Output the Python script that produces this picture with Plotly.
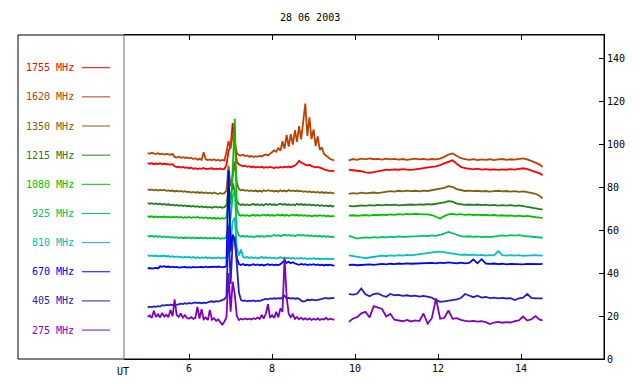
import plotly.graph_objects as go

# ---------------- data ----------------
T_A = [5.00, 5.05, 5.10, 5.15, 5.20, 5.25, 5.30, 5.35, 5.40, 5.45,
       5.50, 5.55, 5.60, 5.65, 5.70, 5.75, 5.80, 5.85, 5.90, 5.95,
       6.00, 6.05, 6.10, 6.15, 6.20, 6.25, 6.30, 6.35, 6.40, 6.45,
       6.50, 6.55, 6.60, 6.65, 6.70, 6.75, 6.80, 6.85, 6.90, 6.95,
       7.00, 7.05, 7.10, 7.15, 7.20, 7.25, 7.30, 7.35, 7.40, 7.45,
       7.50, 7.55, 7.60, 7.65, 7.70, 7.75, 7.80, 7.85, 7.90, 7.95,
       8.00, 8.05, 8.10, 8.15, 8.20, 8.25, 8.30, 8.35, 8.40, 8.45,
       8.50, 8.55, 8.60, 8.65, 8.70, 8.75, 8.80, 8.85, 8.90, 8.95,
       9.00, 9.05, 9.10, 9.15, 9.20, 9.25, 9.30, 9.35, 9.40, 9.45, 9.50]

T_B = [9.85, 9.95, 10.05, 10.15, 10.25, 10.35, 10.45, 10.55, 10.65, 10.75,
       10.85, 10.95, 11.05, 11.15, 11.25, 11.35, 11.45, 11.55, 11.65, 11.75,
       11.85, 11.95, 12.05, 12.15, 12.25, 12.35, 12.45, 12.55, 12.65, 12.75,
       12.85, 12.95, 13.05, 13.15, 13.25, 13.35, 13.45, 13.55, 13.65, 13.75,
       13.85, 13.95, 14.05, 14.15, 14.25, 14.35, 14.45, 14.52]

LABELS = ["1755 MHz", "1620 MHz", "1350 MHz", "1215 MHz", "1080 MHz",
          "925 MHz", "810 MHz", "670 MHz", "405 MHz", "275 MHz"]

F1755_A = [91.3, 91.0, 91.2, 90.8, 91.1, 90.9, 91.2, 90.7, 91.0, 90.8,
           90.9, 90.6, 90.8, 89.8, 89.4, 89.6, 89.2, 89.5, 89.1, 89.3,
           88.9, 89.2, 88.7, 88.9, 88.5, 88.8, 88.6, 89.0, 88.5, 88.7,
           88.6, 88.9, 88.4, 88.7, 88.5, 88.8, 88.4, 88.6, 90.5, 97.0,
           99.0, 110.0, 100.5, 92.0, 90.6, 90.2, 89.8, 90.1, 89.6, 89.9,
           89.4, 89.7, 89.2, 89.5, 89.3, 89.6, 89.1, 89.4, 89.2, 89.5,
           89.3, 89.0, 89.4, 89.1, 89.5, 89.2, 89.6, 89.3, 89.7, 89.4,
           89.8, 90.2, 91.0, 92.4, 91.6, 90.9, 90.6, 90.2, 90.5, 89.9,
           89.7, 89.3, 89.5, 89.0, 88.8, 88.4, 88.2, 87.9, 87.6, 87.8, 87.6]
F1755_B = [88.2, 88.0, 87.8, 87.5, 87.0, 86.8, 87.1, 87.6, 88.1, 88.3,
           88.1, 88.4, 88.2, 88.5, 88.3, 88.1, 88.4, 88.6, 88.9, 89.2,
           89.5, 89.8, 90.3, 91.2, 92.0, 92.6, 91.0, 89.5, 89.0, 88.6,
           88.4, 88.7, 88.3, 88.5, 88.2, 88.4, 88.1, 88.4, 88.2, 88.5,
           88.3, 88.6, 88.9, 88.5, 87.9, 87.2, 86.5, 85.6]

F1620_A = [96.0, 95.6, 96.1, 95.8, 95.5, 95.9, 95.4, 95.7, 95.3, 95.6,
           95.5, 95.2, 95.6, 94.2, 93.9, 94.3, 93.8, 94.1, 93.7, 93.9,
           93.5, 93.8, 93.2, 93.6, 92.9, 93.3, 92.8, 96.4, 93.1, 92.7,
           93.0, 92.6, 93.1, 92.5, 92.9, 92.4, 92.8, 92.5, 96.5, 101.5,
           98.0, 104.5, 101.0, 96.0, 95.0, 94.8, 95.2, 94.6, 94.9, 94.3,
           94.6, 94.1, 94.5, 94.2, 94.7, 94.4, 95.0, 95.3, 94.9, 95.6,
           96.3, 97.2, 96.6, 98.5, 97.0, 101.5, 98.0, 104.4, 99.0, 104.8,
           99.9, 106.6, 101.2, 108.5, 102.4, 111.3, 119.0, 104.0, 112.6, 102.5,
           107.0, 99.2, 103.8, 97.4, 98.6, 95.6, 94.6, 94.0, 93.2, 92.8, 92.5]
F1620_B = [92.6, 93.2, 92.8, 93.4, 93.0, 93.5, 93.1, 93.3, 92.9, 93.4,
           93.0, 93.3, 92.9, 93.2, 92.8, 93.1, 93.4, 93.0, 93.3, 92.9,
           93.2, 93.0, 93.4, 94.2, 95.3, 95.8, 94.8, 93.6, 93.2, 92.8,
           93.1, 92.7, 93.0, 92.8, 93.1, 92.7, 93.0, 93.2, 92.8, 93.1,
           92.9, 93.2, 93.5, 93.0, 92.4, 91.5, 90.6, 89.5]

F1350_A = [79.1, 78.7, 79.0, 78.6, 78.9, 78.5, 78.8, 78.6, 78.9, 78.4,
           78.6, 78.3, 78.5, 78.1, 78.4, 78.0, 78.3, 77.9, 78.2, 77.8,
           78.0, 77.6, 77.9, 77.5, 77.8, 77.4, 77.7, 77.3, 77.6, 77.2,
           77.5, 77.1, 77.6, 77.3, 76.9, 77.4, 77.0, 77.3, 78.5, 90.0,
           80.5, 85.0, 92.0, 82.0, 79.2, 78.6, 78.9, 78.4, 78.7, 78.3,
           78.6, 78.2, 78.5, 78.1, 78.4, 78.0, 78.6, 78.3, 78.7, 78.4,
           78.5, 78.1, 78.4, 78.0, 78.6, 78.2, 78.5, 78.1, 78.7, 78.3,
           78.6, 78.2, 78.5, 78.1, 78.3, 77.9, 78.2, 77.8, 78.1, 77.7,
           78.0, 77.6, 77.9, 77.5, 77.8, 77.4, 77.7, 77.3, 77.6, 77.2, 77.4]
F1350_B = [77.0, 77.3, 77.1, 77.5, 77.2, 77.4, 77.6, 77.3, 77.7, 77.9,
           78.2, 78.0, 78.4, 78.1, 78.5, 78.2, 78.4, 78.1, 78.5, 78.3,
           78.6, 78.9, 79.3, 79.8, 80.5, 80.2, 79.2, 78.6, 78.3, 78.5,
           78.2, 78.4, 78.1, 78.3, 78.0, 78.2, 78.4, 78.1, 78.3, 78.0,
           78.2, 77.9, 78.1, 77.8, 77.5, 77.0, 76.0, 74.8]

F1215_A = [72.7, 72.3, 72.6, 72.2, 72.5, 72.1, 72.4, 72.0, 72.3, 71.9,
           72.1, 71.7, 71.9, 71.5, 71.8, 71.4, 71.7, 71.3, 71.6, 71.2,
           71.4, 71.0, 71.3, 70.9, 71.2, 70.8, 71.1, 70.7, 71.0, 70.6,
           70.9, 70.5, 70.8, 71.0, 70.6, 70.9, 70.5, 70.8, 71.5, 80.0,
           74.0, 82.0, 78.0, 73.5, 72.2, 71.8, 72.1, 71.7, 72.0, 71.6,
           71.9, 72.2, 71.8, 72.1, 71.7, 72.0, 71.6, 72.3, 71.9, 72.2,
           71.8, 72.1, 71.7, 72.0, 72.4, 71.9, 72.2, 71.8, 72.1, 71.7,
           72.0, 71.6, 72.3, 71.9, 72.2, 71.8, 72.1, 71.7, 72.0, 71.6,
           71.9, 71.5, 71.8, 71.4, 71.7, 71.3, 71.6, 71.2, 71.5, 71.1, 71.3]
F1215_B = [71.4, 71.1, 71.3, 71.6, 71.4, 71.7, 71.5, 71.8, 71.6, 71.9,
           71.7, 71.9, 71.6, 71.8, 71.7, 72.0, 71.8, 72.1, 71.9, 72.2,
           72.0, 72.3, 72.5, 73.0, 73.6, 73.3, 72.4, 72.0, 71.8, 72.0,
           71.8, 72.0, 71.7, 71.9, 71.6, 71.8, 71.5, 71.7, 71.5, 71.7,
           71.4, 71.6, 71.3, 71.0, 70.6, 70.3, 70.0, 69.6]

F1080_A = [66.6, 66.2, 66.5, 66.1, 66.4, 66.0, 66.3, 66.1, 66.4, 66.0,
           66.3, 65.9, 66.2, 66.0, 66.3, 65.9, 66.2, 65.8, 66.1, 65.9,
           66.2, 65.8, 66.1, 65.9, 66.2, 65.8, 66.0, 65.7, 66.0, 65.6,
           65.9, 65.5, 65.8, 65.4, 65.7, 65.3, 65.6, 65.4, 66.0, 75.0,
           72.0, 88.0, 112.0, 70.0, 67.2, 66.8, 67.1, 66.7, 67.0, 66.6,
           66.9, 67.2, 66.8, 67.1, 66.7, 67.0, 67.3, 66.9, 67.2, 66.8,
           67.1, 66.7, 67.0, 67.3, 66.9, 67.2, 66.8, 67.1, 66.7, 67.0,
           67.3, 66.9, 67.2, 66.8, 67.1, 66.7, 67.0, 66.6, 66.9, 66.5,
           66.8, 66.9, 66.6, 67.0, 66.7, 66.9, 66.5, 66.8, 66.4, 66.7, 66.5]
F1080_B = [66.8, 67.0, 66.7, 66.9, 67.1, 66.8, 67.2, 67.0, 67.3, 67.1,
           67.4, 67.2, 67.5, 67.3, 67.6, 67.4, 67.7, 67.5, 67.6, 67.4,
           67.1, 66.2, 65.5, 66.6, 67.4, 67.6, 67.3, 67.5, 67.2, 67.4,
           67.1, 67.3, 67.0, 67.2, 66.9, 67.1, 66.8, 67.0, 66.7, 66.9,
           66.6, 66.8, 66.5, 66.7, 66.3, 66.1, 65.9, 65.8]

F925_A = [57.5, 57.1, 57.4, 57.0, 57.3, 56.9, 57.2, 56.8, 57.1, 56.7,
          57.0, 56.6, 56.9, 56.5, 56.8, 56.4, 56.7, 56.3, 56.6, 56.4,
          56.7, 56.3, 56.6, 56.2, 56.5, 56.3, 56.6, 56.2, 56.5, 56.1,
          56.4, 56.2, 56.5, 56.1, 56.4, 56.0, 56.3, 56.1, 57.0, 62.0,
          66.0, 76.0, 78.0, 60.0, 57.5, 57.1, 57.4, 57.0, 57.3, 56.9,
          57.2, 56.8, 57.1, 57.4, 57.0, 57.3, 56.9, 57.2, 57.5, 57.1,
          57.4, 57.8, 57.4, 57.7, 57.3, 57.6, 57.9, 57.5, 57.8, 57.4,
          57.7, 57.3, 57.6, 57.9, 57.5, 57.8, 57.4, 57.7, 57.3, 57.6,
          57.2, 57.5, 57.1, 57.4, 57.0, 57.3, 56.9, 57.2, 56.8, 57.0, 56.7]
F925_B = [57.4, 56.8, 56.1, 56.4, 56.7, 56.5, 56.8, 56.6, 56.9, 56.7,
          57.0, 56.8, 57.1, 56.9, 57.0, 56.8, 57.1, 57.3, 57.5, 57.3,
          57.6, 57.4, 57.8, 58.4, 59.2, 58.6, 57.8, 57.3, 57.0, 57.2,
          56.9, 57.1, 56.8, 57.0, 56.8, 57.1, 57.3, 57.6, 57.4, 57.7,
          57.5, 57.7, 57.4, 57.2, 57.0, 56.8, 56.7, 56.5]

F810_A = [48.4, 48.0, 48.3, 47.9, 48.2, 47.8, 48.1, 47.9, 48.2, 47.8,
          48.0, 47.6, 47.9, 47.5, 47.8, 47.4, 47.7, 47.3, 47.6, 47.4,
          47.6, 47.2, 47.5, 47.1, 47.4, 47.0, 47.3, 47.1, 47.4, 47.0,
          47.3, 46.9, 47.2, 47.0, 47.3, 46.9, 47.2, 47.0, 47.5, 52.0,
          55.0, 64.0, 66.0, 52.0, 48.2, 51.0, 47.6, 47.2, 47.5, 47.1,
          47.4, 47.0, 47.3, 46.9, 47.2, 47.5, 47.1, 47.4, 47.0, 47.3,
          46.9, 47.2, 46.8, 47.1, 47.4, 47.0, 47.3, 46.9, 47.2, 46.8,
          47.1, 46.7, 47.0, 46.8, 47.1, 46.7, 47.0, 46.6, 46.9, 46.7,
          47.0, 46.6, 46.9, 46.5, 46.8, 46.6, 46.9, 46.5, 46.8, 46.6, 46.7]
F810_B = [48.3, 48.0, 47.6, 47.4, 47.0, 47.3, 47.6, 48.0, 48.2, 48.0,
          48.3, 48.1, 48.4, 48.2, 48.5, 48.3, 48.6, 48.8, 49.1, 49.3,
          49.6, 49.9, 50.0, 49.7, 49.3, 48.9, 48.7, 48.5, 48.7, 48.4,
          48.6, 48.3, 48.5, 48.2, 48.4, 48.3, 50.3, 48.4, 48.2, 48.4,
          48.2, 48.4, 48.1, 48.3, 48.2, 48.4, 48.2, 48.3]

F670_A = [42.2, 42.4, 42.1, 42.3, 42.5, 42.2, 43.2, 43.0, 43.3, 42.9,
          43.1, 42.8, 43.0, 42.7, 42.9, 42.6, 42.8, 42.7, 42.9, 42.6,
          42.8, 42.6, 42.9, 42.7, 42.8, 42.6, 42.9, 42.7, 43.0, 42.8,
          42.9, 42.7, 43.0, 42.8, 43.1, 42.9, 43.0, 42.8, 43.5, 88.0,
          50.0, 58.0, 55.0, 47.0, 44.2, 43.8, 44.3, 43.7, 44.0, 43.6,
          43.9, 44.2, 43.8, 44.1, 43.7, 44.0, 43.6, 43.9, 44.2, 43.8,
          44.1, 43.7, 44.0, 43.8, 44.2, 45.0, 46.0, 44.8, 45.3, 44.6,
          45.1, 44.5, 44.2, 43.9, 44.3, 44.0, 44.2, 43.8, 44.1, 43.9,
          44.2, 43.8, 44.1, 43.7, 44.0, 43.6, 43.9, 43.7, 44.0, 43.6, 43.4]
F670_B = [43.8, 44.0, 43.7, 43.9, 43.8, 44.1, 43.9, 44.2, 44.3, 44.1,
          44.4, 44.2, 44.5, 44.3, 44.6, 44.4, 44.5, 44.3, 44.7, 44.5,
          44.8, 44.6, 44.9, 44.7, 45.0, 44.8, 44.6, 44.9, 44.6, 44.8,
          46.4, 44.6, 46.5, 44.5, 44.3, 44.5, 44.2, 44.4, 44.1, 44.3,
          44.2, 44.4, 44.1, 44.3, 44.2, 44.4, 44.2, 44.3]

F405_A = [24.0, 24.4, 24.2, 24.5, 24.3, 24.6, 24.4, 25.1, 24.9, 25.2,
          25.0, 25.3, 25.1, 25.4, 25.2, 25.5, 25.8, 25.6, 26.0, 25.7,
          26.1, 25.8, 26.2, 26.4, 26.1, 26.3, 26.0, 26.3, 26.1, 26.5,
          26.7, 26.9, 26.6, 27.0, 26.8, 27.1, 27.5, 27.9, 29.0, 62.0,
          35.0, 55.0, 57.0, 45.0, 31.0, 27.5, 27.0, 27.3, 26.9, 27.2,
          27.0, 27.3, 26.9, 27.2, 27.0, 27.4, 27.6, 28.0, 27.8, 28.2,
          28.0, 28.3, 28.1, 28.4, 28.2, 28.6, 29.5, 28.3, 28.5, 28.2,
          28.4, 28.1, 28.3, 28.0, 27.2, 26.8, 27.0, 27.6, 27.4, 27.7,
          27.5, 27.3, 27.6, 27.8, 28.1, 28.3, 28.5, 28.2, 28.4, 28.3, 28.5]
F405_B = [30.2, 30.0, 30.4, 32.9, 30.2, 29.2, 30.3, 30.6, 29.6, 29.0,
          30.3, 29.7, 29.9, 29.4, 29.7, 29.3, 29.5, 29.1, 29.4, 29.0,
          28.6, 27.4, 26.7, 26.9, 27.1, 27.5, 27.8, 28.4, 30.3, 29.6,
          28.8, 29.5, 28.6, 28.9, 28.4, 28.6, 28.3, 28.5, 28.2, 28.4,
          27.5, 28.3, 28.6, 30.3, 28.5, 28.3, 28.4, 28.3]

F275_A = [19.7, 20.3, 19.2, 22.5, 19.6, 20.8, 19.4, 21.5, 19.8, 20.6,
          19.5, 22.8, 19.9, 27.8, 20.5, 19.6, 21.2, 19.3, 20.4, 19.0,
          18.9, 19.5, 18.7, 19.2, 24.3, 18.8, 23.2, 18.5, 19.3, 18.2,
          22.9, 18.3, 19.0, 17.8, 18.4, 17.2, 16.0, 17.5, 19.5, 40.0,
          22.0, 36.0, 30.0, 20.0, 18.2, 18.8, 18.4, 18.9, 18.5, 18.8,
          18.4, 19.0, 18.6, 19.3, 18.7, 20.5, 18.9, 21.2, 25.6, 19.2,
          20.4, 19.1, 22.0, 19.4, 23.6, 22.0, 47.0, 29.0, 21.0, 19.5,
          20.8, 18.7, 19.6, 18.5, 19.2, 18.4, 19.0, 18.3, 18.9, 18.2,
          18.8, 18.3, 18.9, 18.2, 18.7, 18.4, 19.2, 18.3, 18.8, 18.5, 18.4]
F275_B = [17.3, 18.9, 19.5, 21.3, 22.0, 19.4, 24.6, 23.8, 23.3, 19.8,
          21.0, 18.3, 18.0, 17.6, 18.2, 17.5, 18.0, 17.7, 21.2, 16.5,
          19.0, 28.2, 18.8, 19.1, 22.6, 18.7, 19.0, 18.2, 17.8, 17.5,
          17.8, 17.4, 17.6, 17.2, 16.3, 17.0, 17.3, 16.9, 17.2, 17.0,
          17.6, 18.0, 19.8, 17.9, 18.5, 20.0, 18.3, 18.0]

SEG_A = [F1755_A, F1620_A, F1350_A, F1215_A, F1080_A,
         F925_A, F810_A, F670_A, F405_A, F275_A]
SEG_B = [F1755_B, F1620_B, F1350_B, F1215_B, F1080_B,
         F925_B, F810_B, F670_B, F405_B, F275_B]

X_TICKS = [6, 8, 10, 12, 14]
Y_TICKS = [0, 20, 40, 60, 80, 100, 120, 140]
TITLE = "28 06 2003"

# ---------------- style ----------------
COLORS = ["#ff0000", "#c04000", "#806010", "#208020", "#00c000",
          "#00c060", "#00c0c0", "#0000ff", "#2020c0", "#8000c0"]
FONT = "DejaVu Sans Mono"

# the page shows the figure offset by the body margin (8 px); compensate
OFF = 8
W, H = 640, 384
ML, MR, MT, MB = 124 - OFF, 36 + OFF, 35 - OFF, 25 + OFF
PW, PH = W - ML - MR, H - MT - MB


def px_x(px):
    return (px - OFF - ML) / PW


def px_y(py):
    return (H - MB - (py - OFF)) / PH


fig = go.Figure()
for col, a, b in zip(COLORS, SEG_A, SEG_B):
    fig.add_trace(go.Scatter(
        x=T_A + [None] + T_B, y=a + [None] + b, mode="lines",
        line=dict(color=col, width=1.8),
        showlegend=False, hoverinfo="skip"))

shapes = [
    dict(type="rect", xref="paper", yref="paper", x0=px_x(18), x1=1, y0=0, y1=1,
         line=dict(color="black", width=1), layer="above"),
    dict(type="line", xref="paper", yref="paper", x0=0, x1=0, y0=0, y1=1,
         line=dict(color="#707070", width=1), layer="above"),
]
annotations = []
for k, (lab, col) in enumerate(zip(LABELS, COLORS)):
    py = 67.7 + 29.15 * k
    yy = px_y(py)
    annotations.append(dict(x=px_x(76), y=yy, xref="paper", yref="paper",
                            text=lab, showarrow=False, xanchor="right",
                            yanchor="middle",
                            font=dict(family=FONT, size=10, color=col)))
    shapes.append(dict(type="line", xref="paper", yref="paper",
                       x0=px_x(82), x1=px_x(110), y0=yy, y1=yy,
                       line=dict(color=col, width=1)))

annotations.append(dict(x=px_x(310), y=px_y(18), xref="paper", yref="paper",
                        text=TITLE, showarrow=False, xanchor="center",
                        yanchor="middle",
                        font=dict(family=FONT, size=10, color="black")))
annotations.append(dict(x=px_x(123), y=px_y(371), xref="paper", yref="paper",
                        text="UT", showarrow=False, xanchor="center",
                        yanchor="middle",
                        font=dict(family=FONT, size=10, color="black")))

fig.update_layout(
    width=W, height=H,
    margin=dict(l=ML, r=MR, t=MT, b=MB, pad=0),
    paper_bgcolor="white", plot_bgcolor="white",
    font=dict(family=FONT, size=10, color="black"),
    xaxis=dict(range=[4.43, 16.0], tickvals=X_TICKS, ticks="inside",
               ticklen=5, tickcolor="black", showline=True,
               linecolor="black", mirror="ticks", showgrid=False,
               zeroline=False, tickfont=dict(family=FONT, size=10)),
    yaxis=dict(range=[0, 151], tickvals=Y_TICKS, side="right",
               ticks="inside", ticklen=5, tickcolor="black",
               showline=True, linecolor="black", showgrid=False,
               zeroline=False, tickfont=dict(family=FONT, size=10)),
    shapes=shapes, annotations=annotations,
)

fig.write_html("out.html")
